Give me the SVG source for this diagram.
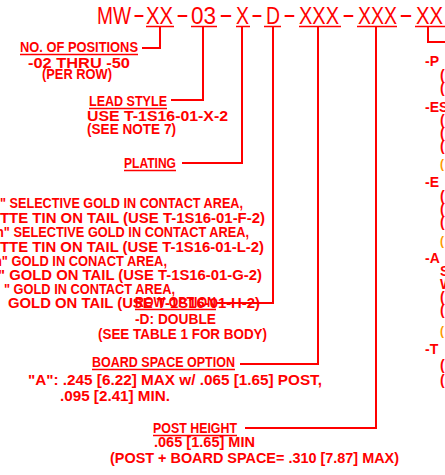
<svg xmlns="http://www.w3.org/2000/svg" width="445" height="475" viewBox="0 0 445 475">
<style>
.t{font-family:"Liberation Sans",Arial,sans-serif;font-weight:bold;font-size:14px;fill:#FF0000}
.ti{font-family:"Liberation Sans",Arial,sans-serif;font-weight:normal;font-size:24px;fill:#FF0000}
.or{fill:#FF9900;font-size:12px}
.ln{stroke:#FF0000;stroke-width:2;fill:none}
.ul{stroke:#FF0000;stroke-width:1.4;fill:none}
</style>
<rect width="445" height="475" fill="#FFFFFF"/>
<g id="title">
<text class="ti" x="97" y="24" textLength="34" lengthAdjust="spacingAndGlyphs">MW</text>
<text class="ti" x="133" y="22" textLength="12" lengthAdjust="spacingAndGlyphs">-</text>
<text class="ti" x="146" y="24" textLength="27" lengthAdjust="spacingAndGlyphs">XX</text>
<text class="ti" x="176" y="22" textLength="13" lengthAdjust="spacingAndGlyphs">-</text>
<text class="ti" x="191" y="24" textLength="25" lengthAdjust="spacingAndGlyphs">03</text>
<text class="ti" x="219" y="22" textLength="14" lengthAdjust="spacingAndGlyphs">-</text>
<text class="ti" x="236" y="24" textLength="13" lengthAdjust="spacingAndGlyphs">X</text>
<text class="ti" x="251" y="22" textLength="12" lengthAdjust="spacingAndGlyphs">-</text>
<text class="ti" x="266" y="24" textLength="14" lengthAdjust="spacingAndGlyphs">D</text>
<text class="ti" x="283" y="22" textLength="13" lengthAdjust="spacingAndGlyphs">-</text>
<text class="ti" x="299" y="24" textLength="40" lengthAdjust="spacingAndGlyphs">XXX</text>
<text class="ti" x="342" y="22" textLength="13" lengthAdjust="spacingAndGlyphs">-</text>
<text class="ti" x="358" y="24" textLength="39" lengthAdjust="spacingAndGlyphs">XXX</text>
<text class="ti" x="399" y="22" textLength="14" lengthAdjust="spacingAndGlyphs">-</text>
<text class="ti" x="416" y="24" textLength="27" lengthAdjust="spacingAndGlyphs">XX</text>
<path class="ul" d="M146 26.5H174M191 26.5H217M236 26.5H250M264 26.5H281M299 26.5H341M357 26.5H397M415 26.5H445"/>
</g>
<g id="connectors">
<path class="ln" d="M160 26V48H142"/>
<path class="ln" d="M203 26V100H171"/>
<path class="ln" d="M242 26V163H182"/>
<path class="ln" d="M273 26V303H217"/>
<path class="ln" d="M318 26V364H240"/>
<path class="ln" d="M376 26V428H245"/>
<path class="ln" d="M428 26V42H445"/>
</g>
<g id="positions">
<text class="t" x="20" y="52" textLength="118" lengthAdjust="spacingAndGlyphs">NO. OF POSITIONS</text>
<path class="ul" d="M20 54.5H138"/>
<text class="t" x="28" y="68" textLength="102" lengthAdjust="spacingAndGlyphs">-02 THRU -50</text>
<text class="t" x="42" y="79" textLength="70" lengthAdjust="spacingAndGlyphs">(PER ROW)</text>
</g>
<g id="lead-style">
<text class="t" x="89" y="106" textLength="78" lengthAdjust="spacingAndGlyphs">LEAD STYLE</text>
<path class="ul" d="M89 108.5H167"/>
<text class="t" x="87" y="121" textLength="141" lengthAdjust="spacingAndGlyphs">USE T-1S16-01-X-2</text>
<text class="t" x="87" y="134" textLength="89" lengthAdjust="spacingAndGlyphs">(SEE NOTE 7)</text>
</g>
<g id="plating">
<text class="t" x="124" y="168" textLength="52" lengthAdjust="spacingAndGlyphs">PLATING</text>
<path class="ul" d="M124 170.5H176"/>
<text class="t" x="0" y="208" textLength="243" lengthAdjust="spacingAndGlyphs">" SELECTIVE GOLD IN CONTACT AREA,</text>
<text class="t" x="0" y="223" textLength="265" lengthAdjust="spacingAndGlyphs">TTE TIN ON TAIL (USE T-1S16-01-F-2)</text>
<text class="t" x="-4" y="237" textLength="253" lengthAdjust="spacingAndGlyphs">n" SELECTIVE GOLD IN CONTACT AREA,</text>
<text class="t" x="0" y="252" textLength="264" lengthAdjust="spacingAndGlyphs">TTE TIN ON TAIL (USE T-1S16-01-L-2)</text>
<text class="t" x="-6" y="266" textLength="173" lengthAdjust="spacingAndGlyphs">n" GOLD IN CONACT AREA,</text>
<text class="t" x="-2" y="280" textLength="264" lengthAdjust="spacingAndGlyphs">" GOLD ON TAIL (USE T-1S16-01-G-2)</text>
<text class="t" x="4" y="294" textLength="171" lengthAdjust="spacingAndGlyphs">" GOLD IN CONTACT AREA,</text>
<text class="t" x="8" y="308" textLength="252" lengthAdjust="spacingAndGlyphs">GOLD ON TAIL (USE T-1S16-01-H-2)</text>
</g>
<g id="row-option">
<text class="t" x="135" y="307" textLength="81" lengthAdjust="spacingAndGlyphs">ROW OPTION</text>
<path class="ul" d="M135 309.5H216"/>
<text class="t" x="135" y="324" textLength="81" lengthAdjust="spacingAndGlyphs">-D: DOUBLE</text>
<text class="t" x="98" y="339" textLength="169" lengthAdjust="spacingAndGlyphs">(SEE TABLE 1 FOR BODY)</text>
</g>
<g id="board-space">
<text class="t" x="92" y="367" textLength="143" lengthAdjust="spacingAndGlyphs">BOARD SPACE OPTION</text>
<path class="ul" d="M92 369.5H235"/>
<text class="t" x="28" y="385" textLength="294" lengthAdjust="spacingAndGlyphs">"A": .245 [6.22] MAX w/ .065 [1.65] POST,</text>
<text class="t" x="60" y="401" textLength="110" lengthAdjust="spacingAndGlyphs">.095 [2.41] MIN.</text>
</g>
<g id="post-height">
<text class="t" x="153" y="433" textLength="84" lengthAdjust="spacingAndGlyphs">POST HEIGHT</text>
<path class="ul" d="M153 435.5H237"/>
<text class="t" x="154" y="447" textLength="101" lengthAdjust="spacingAndGlyphs">.065 [1.65] MIN</text>
<text class="t" x="110" y="463" textLength="289" lengthAdjust="spacingAndGlyphs">(POST + BOARD SPACE= .310 [7.87] MAX)</text>
</g>
<g id="right-column">
<text class="t" x="425" y="66">-P</text>
<text class="t" x="440" y="80">(</text>
<text class="t" x="440" y="93">(</text>
<text class="t" x="425" y="112">-ES</text>
<text class="t" x="440" y="125">(</text>
<text class="t" x="440" y="138">(</text>
<text class="t" x="440" y="151">(</text>
<text class="t or" x="440" y="168">(</text>
<text class="t" x="425" y="187">-E</text>
<text class="t" x="440" y="201">(</text>
<text class="t" x="440" y="214">(</text>
<text class="t" x="440" y="227">(</text>
<text class="t or" x="440" y="245">(</text>
<text class="t" x="425" y="263">-A</text>
<text class="t" x="440" y="276">S</text>
<text class="t" x="440" y="289">W</text>
<text class="t" x="440" y="302">(</text>
<text class="t" x="440" y="315">(</text>
<text class="t or" x="440" y="335">(</text>
<text class="t" x="425" y="354">-T</text>
<text class="t" x="440" y="370">(</text>
<text class="t" x="440" y="385">(</text>
</g>
</svg>
